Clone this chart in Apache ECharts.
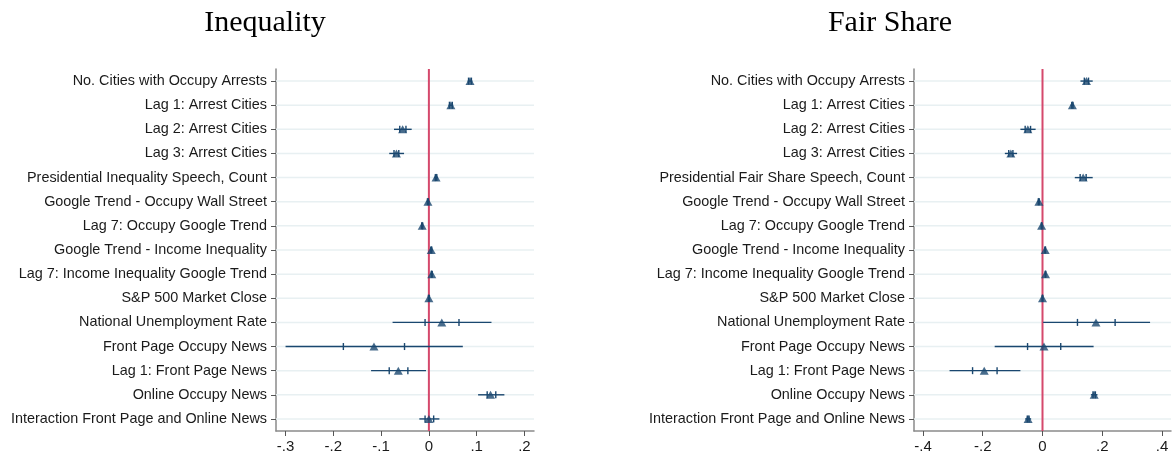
<!DOCTYPE html>
<html>
<head>
<meta charset="utf-8">
<script src="https://cdn.jsdelivr.net/npm/echarts@6/dist/echarts.min.js"></script>
<style>
  html, body { margin: 0; padding: 0; background: #fff; }
  #chart { width: 1173px; height: 457px; }
</style>
</head>
<body>
<div id="chart"></div>
<script>
// Regressors, top to bottom
const ineqLabels = [
  'No. Cities with Occupy Arrests', 'Lag 1: Arrest Cities', 'Lag 2: Arrest Cities', 'Lag 3: Arrest Cities',
  'Presidential Inequality Speech, Count', 'Google Trend - Occupy Wall Street', 'Lag 7: Occupy Google Trend',
  'Google Trend - Income Inequality', 'Lag 7: Income Inequality Google Trend', 'S&P 500 Market Close',
  'National Unemployment Rate', 'Front Page Occupy News', 'Lag 1: Front Page News', 'Online Occupy News',
  'Interaction Front Page and Online News'
];
const fairLabels = [
  'No. Cities with Occupy Arrests', 'Lag 1: Arrest Cities', 'Lag 2: Arrest Cities', 'Lag 3: Arrest Cities',
  'Presidential Fair Share Speech, Count', 'Google Trend - Occupy Wall Street', 'Lag 7: Occupy Google Trend',
  'Google Trend - Income Inequality', 'Lag 7: Income Inequality Google Trend', 'S&P 500 Market Close',
  'National Unemployment Rate', 'Front Page Occupy News', 'Lag 1: Front Page News', 'Online Occupy News',
  'Interaction Front Page and Online News'
];

// Inequality model: point estimates, outer interval, inner interval
const ineqCoef  = [0.086, 0.046, -0.055, -0.068, 0.015, -0.002, -0.014, 0.005, 0.006, 0.000, 0.027, -0.115, -0.064, 0.129, 0.000];
const ineqLoOut = [0.081, 0.041, -0.073, -0.083, 0.011, -0.005, -0.017, 0.002, 0.003, -0.002, -0.076, -0.300, -0.121, 0.103, -0.020];
const ineqHiOut = [0.091, 0.051, -0.036, -0.052, 0.019, 0.001, -0.011, 0.008, 0.009, 0.002, 0.131, 0.071, -0.006, 0.158, 0.022];
const ineqLoIn  = [0.083, 0.043, -0.061, -0.073, 0.0135, -0.003, -0.015, 0.004, 0.005, -0.001, -0.008, -0.179, -0.083, 0.122, -0.008];
const ineqHiIn  = [0.089, 0.049, -0.048, -0.063, 0.0165, -0.001, -0.013, 0.006, 0.007, 0.001, 0.063, -0.051, -0.044, 0.140, 0.010];

// Fair Share model
const fairCoef  = [0.147, 0.100, -0.049, -0.106, 0.136, -0.012, -0.003, 0.009, 0.010, 0.000, 0.179, 0.005, -0.195, 0.173, -0.048];
const fairLoOut = [0.127, 0.094, -0.074, -0.126, 0.108, -0.017, -0.006, 0.005, 0.006, -0.003, 0.002, -0.160, -0.311, 0.162, -0.058];
const fairHiOut = [0.168, 0.105, -0.023, -0.085, 0.168, -0.008, 0.000, 0.012, 0.013, 0.003, 0.360, 0.171, -0.074, 0.184, -0.038];
const fairLoIn  = [0.140, 0.098, -0.058, -0.113, 0.126, -0.014, -0.004, 0.008, 0.009, -0.001, 0.117, -0.050, -0.234, 0.169, -0.051];
const fairHiIn  = [0.154, 0.102, -0.040, -0.099, 0.146, -0.011, -0.002, 0.010, 0.011, 0.001, 0.243, 0.061, -0.152, 0.177, -0.045];

// Axis ticks
const ineqTicks = [-0.3, -0.2, -0.1, 0, 0.1, 0.2];
const fairTicks = [-0.4, -0.2, 0, 0.2, 0.4];

const NAVY = '#1a476f';
const RED = '#d5486c';
const GRIDLINE = '#e8f0f2';
const LABEL_FONT = '"Liberation Sans", Arial, Helvetica, sans-serif';
const TITLE_FONT = '"Liberation Serif", "Times New Roman", serif';

function stataNum(v) {
  if (Math.abs(v) < 1e-9) return '0';
  return v.toFixed(1).replace('0.', '.');
}

function ciRows(lo, hi, li, hiIn) {
  return lo.map((v, i) => [v, i, hi[i], li[i], hiIn[i]]);
}

// Light horizontal rule through each row, spanning the plot width
function renderGridline(params, api) {
  const cs = params.coordSys;
  const y = api.coord([0, api.value(0)])[1];
  return {
    type: 'line',
    shape: { x1: cs.x, y1: y, x2: cs.x + cs.width, y2: y },
    style: { stroke: GRIDLINE, lineWidth: 1.5 }
  };
}

// Vertical reference line at zero, full plot height
function renderZeroLine(params, api) {
  const cs = params.coordSys;
  const x = api.coord([0, 0])[0];
  return {
    type: 'line',
    shape: { x1: x, y1: cs.y, x2: x, y2: cs.y + cs.height },
    style: { stroke: RED, lineWidth: 2 }
  };
}

// Outer interval as a bar, inner interval as two short caps
function renderCI(params, api) {
  const idx = api.value(1);
  const a = api.coord([api.value(0), idx]);
  const b = api.coord([api.value(2), idx]);
  const c = api.coord([api.value(3), idx]);
  const d = api.coord([api.value(4), idx]);
  const h = 3.5;
  const st = { stroke: NAVY, lineWidth: 1.4 };
  return {
    type: 'group',
    children: [
      { type: 'line', shape: { x1: a[0], y1: a[1], x2: b[0], y2: b[1] }, style: st },
      { type: 'line', shape: { x1: c[0], y1: c[1] - h, x2: c[0], y2: c[1] + h }, style: st },
      { type: 'line', shape: { x1: d[0], y1: d[1] - h, x2: d[0], y2: d[1] + h }, style: st }
    ]
  };
}

function yAxisFor(labels, gridIndex) {
  return {
    type: 'category', gridIndex, data: labels, inverse: true,
    axisLine: { show: true, onZero: false, lineStyle: { color: '#8a8a8a', width: 1.5 } },
    axisTick: { show: true, alignWithLabel: true, length: 5, lineStyle: { color: '#555' } },
    axisLabel: { color: '#1a1a1a', fontSize: 14.4, fontFamily: LABEL_FONT, margin: 9 },
    splitLine: { show: false }
  };
}

function xAxisFor(min, max, ticks, gridIndex) {
  return {
    type: 'value', gridIndex, min, max,
    axisLine: { show: true, onZero: false, lineStyle: { color: '#8a8a8a', width: 1.5 } },
    axisTick: { show: true, length: 5, customValues: ticks, lineStyle: { color: '#555' } },
    axisLabel: { customValues: ticks, color: '#1a1a1a', fontSize: 15, fontFamily: LABEL_FONT, margin: 8,
                 formatter: stataNum },
    splitLine: { show: false }
  };
}

function seriesFor(k, coef, lo, hi, li, hiIn) {
  return [
    { type: 'custom', xAxisIndex: k, yAxisIndex: k, data: coef.map((_, i) => [i]),
      encode: { y: 0 }, renderItem: renderGridline, z: 1, silent: true },
    { type: 'custom', xAxisIndex: k, yAxisIndex: k, data: [[0]],
      encode: { x: 0 }, renderItem: renderZeroLine, z: 2, silent: true },
    { type: 'custom', xAxisIndex: k, yAxisIndex: k, data: ciRows(lo, hi, li, hiIn),
      encode: { x: [0, 2, 3, 4], y: 1 }, renderItem: renderCI, z: 3, silent: true },
    { type: 'scatter', xAxisIndex: k, yAxisIndex: k, data: coef.map((v, i) => [v, i]),
      symbol: 'triangle', symbolSize: [9, 8], itemStyle: { color: NAVY }, z: 4, silent: true }
  ];
}

const chart = echarts.init(document.getElementById('chart'), null, { renderer: 'canvas' });
chart.setOption({
  animation: false,
  backgroundColor: '#fff',
  title: [
    { text: 'Inequality', left: 260, top: 3, textAlign: 'center',
      textStyle: { fontFamily: TITLE_FONT, fontSize: 30, fontWeight: 'normal', color: '#000' } },
    { text: 'Fair Share', left: 885, top: 3, textAlign: 'center',
      textStyle: { fontFamily: TITLE_FONT, fontSize: 30, fontWeight: 'normal', color: '#000' } }
  ],
  grid: [
    { left: 276, top: 69, width: 258, height: 362, containLabel: false },
    { left: 914, top: 69, width: 257, height: 362, containLabel: false }
  ],
  xAxis: [
    xAxisFor(-0.32, 0.22, ineqTicks, 0),
    xAxisFor(-0.43, 0.43, fairTicks, 1)
  ],
  yAxis: [
    yAxisFor(ineqLabels, 0),
    yAxisFor(fairLabels, 1)
  ],
  series: [
    ...seriesFor(0, ineqCoef, ineqLoOut, ineqHiOut, ineqLoIn, ineqHiIn),
    ...seriesFor(1, fairCoef, fairLoOut, fairHiOut, fairLoIn, fairHiIn)
  ]
});
</script>
</body>
</html>
